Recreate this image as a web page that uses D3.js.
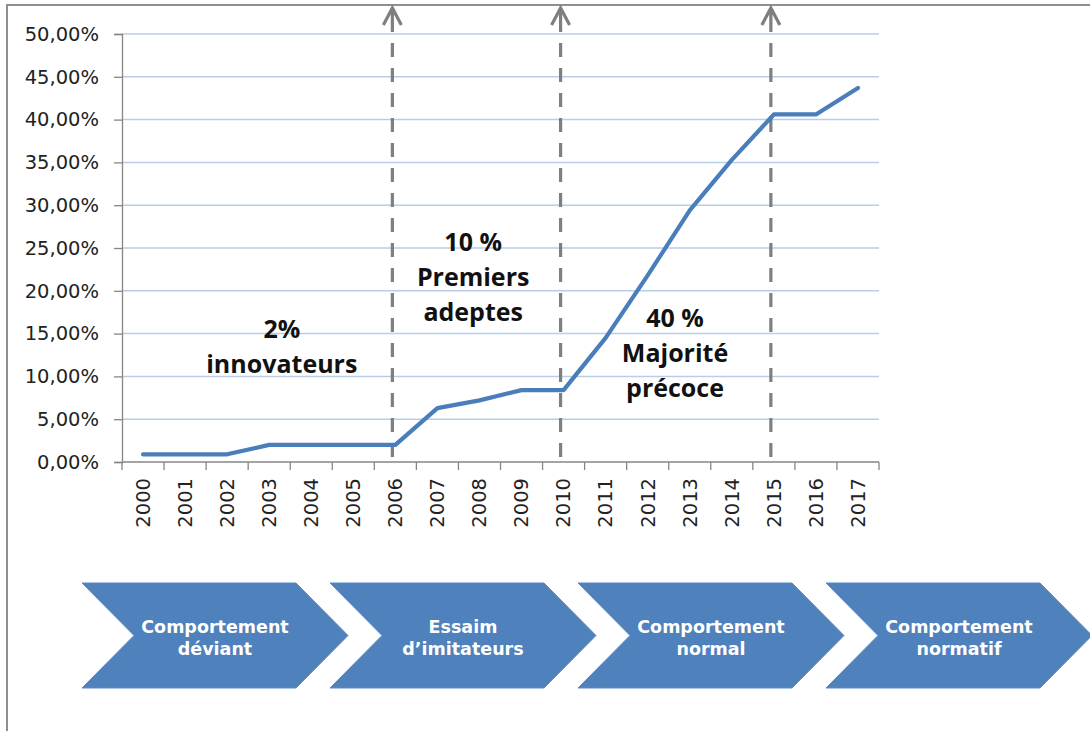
<!DOCTYPE html>
<html>
<head>
<meta charset="utf-8">
<script src="https://cdn.jsdelivr.net/npm/d3@7"></script>
<style>
  body { margin: 0; background: #fff; }
  svg { display: block; }
</style>
</head>
<body>
<div id="chart"></div>
<script>
const width = 1090, height = 731;

// data
const years = ["2000", "2001", "2002", "2003", "2004", "2005", "2006", "2007", "2008",
  "2009", "2010", "2011", "2012", "2013", "2014", "2015", "2016", "2017"];
const adoption = [0.009, 0.009, 0.009, 0.020, 0.020, 0.020, 0.020, 0.063, 0.072,
  0.084, 0.084, 0.145, 0.218, 0.294, 0.353, 0.406, 0.406, 0.437];
const yTicks = [0, 0.05, 0.10, 0.15, 0.20, 0.25, 0.30, 0.35, 0.40, 0.45, 0.50];
const arrowYears = ["2006", "2010", "2015"];
const phaseLabels = [
  ["2%", "innovateurs"],
  ["10 %", "Premiers", "adeptes"],
  ["40 %", "Majorité", "précoce"]
];
const stages = [
  ["Comportement", "déviant"],
  ["Essaim", "d\u2019imitateurs"],
  ["Comportement", "normal"],
  ["Comportement", "normatif"]
];

const margin = { top: 34, left: 122, right: 211, bottom: 269 };

const svg = d3.select("#chart")
  .append("svg")
  .attr("width", width)
  .attr("height", height);

svg.append("rect").attr("width", width).attr("height", height).attr("fill", "#fff");

// outer frame (top and left edges visible)
svg.append("path")
  .attr("d", `M7,${height} V5 H${width}`)
  .attr("fill", "none")
  .attr("stroke", "#8f8f8f")
  .attr("stroke-width", 2);

const x = d3.scaleBand()
  .domain(years)
  .range([margin.left, width - margin.right]);

const y = d3.scaleLinear()
  .domain([0, 0.5])
  .range([height - margin.bottom, margin.top]);

const fr = d3.formatLocale({ decimal: ",", thousands: " ", grouping: [3], currency: ["", " €"] });
const pct = fr.format(".2%");

const xc = d => x(d) + x.bandwidth() / 2;

// gridlines
svg.append("g")
  .selectAll("line")
  .data(yTicks.slice(1))
  .join("line")
  .attr("x1", margin.left)
  .attr("x2", width - margin.right)
  .attr("y1", d => y(d))
  .attr("y2", d => y(d))
  .attr("stroke", "#b7cdea")
  .attr("stroke-width", 1.5);

// y axis
const yAxis = svg.append("g")
  .attr("transform", `translate(${margin.left},0)`)
  .call(d3.axisLeft(y).tickValues(yTicks).tickFormat(pct).tickSize(8).tickPadding(15));
yAxis.select(".domain").attr("stroke", "#868686").attr("stroke-width", 1.3);
yAxis.selectAll(".tick line").attr("stroke", "#868686").attr("stroke-width", 1.3);
yAxis.selectAll("text")
  .attr("font-family", "DejaVu Sans, Verdana, sans-serif")
  .attr("font-size", "19.5px")
  .attr("fill", "#222");

// x axis with ticks between categories
const xAxisG = svg.append("g")
  .attr("transform", `translate(0,${y(0)})`);
xAxisG.append("line")
  .attr("x1", margin.left)
  .attr("x2", width - margin.right)
  .attr("stroke", "#868686")
  .attr("stroke-width", 1.3);
xAxisG.selectAll(".bt")
  .data(years.concat(["end"]))
  .join("line")
  .attr("class", "bt")
  .attr("x1", (d, i) => i < years.length ? x(d) : x.range()[1])
  .attr("x2", (d, i) => i < years.length ? x(d) : x.range()[1])
  .attr("y1", 0)
  .attr("y2", 8)
  .attr("stroke", "#868686")
  .attr("stroke-width", 1.3);
xAxisG.selectAll(".lbl")
  .data(years)
  .join("text")
  .attr("class", "lbl")
  .attr("transform", d => `translate(${xc(d)},16) rotate(-90)`)
  .attr("text-anchor", "end")
  .attr("dy", "0.35em")
  .attr("font-family", "DejaVu Sans, Verdana, sans-serif")
  .attr("font-size", "19.5px")
  .attr("fill", "#222")
  .text(d => d);

// dashed arrows marking the phases
const arrows = svg.append("g")
  .attr("stroke", "#7f7f7f")
  .attr("stroke-width", 3.2)
  .attr("fill", "none");
arrowYears.forEach(yr => {
  const ax = xc(yr) - 3;
  arrows.append("path")
    .attr("d", `M${ax - 9},25 L${ax},8 L${ax + 9},25 M${ax},8 V32`);
  arrows.append("line")
    .attr("x1", ax).attr("x2", ax)
    .attr("y1", 43).attr("y2", y(0))
    .attr("stroke-dasharray", "14,11");
});

// series line
const line = d3.line()
  .x((d, i) => xc(years[i]))
  .y(d => y(d));

svg.append("path")
  .datum(adoption)
  .attr("d", line)
  .attr("fill", "none")
  .attr("stroke", "#4a7ebb")
  .attr("stroke-width", 4.2)
  .attr("stroke-linejoin", "round")
  .attr("stroke-linecap", "round");

// phase labels, placed in year/value units
const labelPos = [
  { at: 3.8, v: 0.145 },
  { at: 8.35, v: 0.246 },
  { at: 13.15, v: 0.158 }
];
const xi = d3.scaleLinear().domain([0, years.length]).range(x.range());
phaseLabels.forEach((lines, k) => {
  const t = svg.append("text")
    .attr("x", xi(labelPos[k].at))
    .attr("y", y(labelPos[k].v))
    .attr("text-anchor", "middle")
    .attr("font-family", "Open Sans, sans-serif")
    .attr("font-weight", "bold")
    .attr("font-size", "25px")
    .attr("fill", "#111");
  lines.forEach((s, j) => {
    t.append("tspan").attr("x", xi(labelPos[k].at)).attr("dy", j === 0 ? 0 : 35).text(s);
  });
});

// process chevrons
const cx = d3.scaleBand().domain(d3.range(stages.length)).range([82, 82 + 248 * stages.length]);
const cTop = 583, cBot = 688, cMid = (cTop + cBot) / 2, cW = 266, notch = 52;

const chev = svg.append("g")
  .selectAll("g")
  .data(stages)
  .join("g")
  .attr("transform", (d, i) => `translate(${cx(i)},0)`);

chev.append("path")
  .attr("d", `M0,${cTop} H${cW - notch} L${cW},${cMid} L${cW - notch},${cBot} H0 L${notch},${cMid} Z`)
  .attr("fill", "#4f81bd")
  .attr("stroke", "#5a8ac4")
  .attr("stroke-width", 1);

chev.append("text")
  .attr("text-anchor", "middle")
  .attr("font-family", "DejaVu Sans, Verdana, sans-serif")
  .attr("font-weight", "bold")
  .attr("font-size", "17.5px")
  .attr("fill", "#fff")
  .selectAll("tspan")
  .data(d => d)
  .join("tspan")
  .attr("x", cW / 2)
  .attr("y", (d, j) => 633 + j * 22)
  .text(d => d);
</script>
</body>
</html>
